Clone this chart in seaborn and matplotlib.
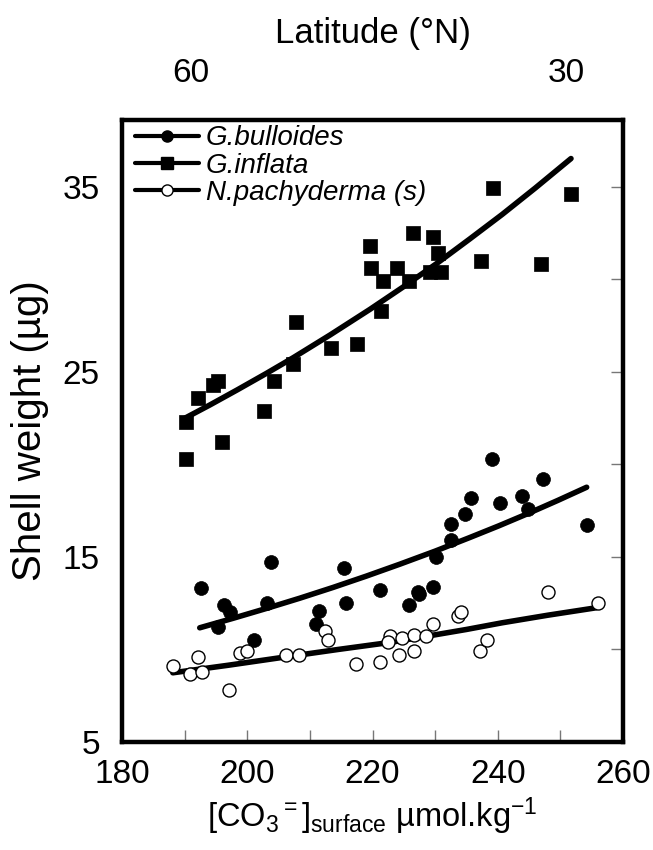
import numpy as np
import pandas as pd
import matplotlib
matplotlib.use("Agg")
import matplotlib.pyplot as plt
from matplotlib.lines import Line2D
import seaborn as sns

# ---- data ----
inflata_x = [190.2, 190.2, 192.1, 194.5, 195.3, 195.9, 202.7, 204.2, 207.3, 207.7,
             213.4, 217.5, 219.6, 219.7, 221.3, 221.7, 223.9, 225.8, 226.4, 229.6,
             230.4, 229.1, 231.0, 237.4, 239.3, 246.9, 251.7]
inflata_y = [22.3, 20.3, 23.6, 24.3, 24.5, 21.2, 22.9, 24.5, 25.4, 27.7,
             26.3, 26.5, 31.8, 30.6, 28.3, 29.9, 30.6, 29.9, 32.5, 32.3,
             31.4, 30.4, 30.4, 31.0, 34.9, 30.8, 34.6]

bulloides_x = [239.1, 247.2, 235.8, 243.8, 240.3, 234.7, 244.9, 232.5, 232.5, 254.2,
               230.1, 203.8, 215.5, 192.6, 221.2, 196.2, 203.1, 215.8, 197.3, 211.5,
               195.3, 211.0, 201.1, 227.2, 227.5, 229.6, 225.8]
bulloides_y = [20.3, 19.2, 18.2, 18.3, 17.9, 17.3, 17.6, 16.8, 15.9, 16.7,
               15.0, 14.7, 14.4, 13.3, 13.2, 12.4, 12.5, 12.5, 12.0, 12.1,
               11.2, 11.4, 10.5, 13.1, 13.0, 13.4, 12.4]

pachy_x = [188.1, 190.8, 192.7, 192.2, 197.0, 198.9, 200.0, 206.2, 208.3, 212.4,
           212.9, 217.4, 221.2, 222.8, 222.4, 224.7, 224.2, 226.6, 226.6, 228.6,
           229.6, 233.7, 234.2, 237.2, 238.3, 248.0, 256.0]
pachy_y = [9.1, 8.7, 8.8, 9.6, 7.8, 9.8, 9.9, 9.7, 9.7, 11.0,
           10.5, 9.2, 9.3, 10.7, 10.4, 10.6, 9.7, 10.8, 9.9, 10.7,
           11.4, 11.8, 12.0, 9.9, 10.5, 13.1, 12.5]

# fitted curves, points
inflata_fit_x = [189.7, 194.0, 198.4, 203.0, 207.3, 213.2, 219.6, 225.0, 230.2,
                 235.5, 240.7, 246.0, 251.7]
inflata_fit_y = [22.43, 23.20, 24.02, 24.90, 25.75, 26.98, 28.37, 29.60, 30.83,
                 32.16, 33.49, 34.92, 36.51]
bulloides_fit_x = [192.4, 197.8, 203.1, 208.4, 213.7, 219.0, 224.4, 230.0, 235.5,
                   240.2, 244.9, 249.6, 254.2]
bulloides_fit_y = [11.17, 11.69, 12.22, 12.77, 13.35, 13.96, 14.61, 15.31, 16.04,
                   16.68, 17.35, 18.05, 18.76]
pachy_fit_x = [188.1, 197.0, 206.2, 214.5, 222.8, 229.1, 235.0, 240.7, 248.0, 255.7]
pachy_fit_y = [8.74, 9.15, 9.6, 10.0, 10.38, 10.74, 11.08, 11.44, 11.85, 12.25]

series_names = ["G.bulloides", "G.inflata", "N.pachyderma (s)"]
x_ticks = [180, 200, 220, 240, 260]
y_ticks = [5, 15, 25, 35]
lat_positions = [191, 251]
lat_labels = ["60", "30"]

# ---- plotting ----
sns.set_theme(style="white")
plt.rcParams["font.family"] = ["Liberation Sans", "DejaVu Sans"]
plt.rcParams["mathtext.fontset"] = "custom"
plt.rcParams["mathtext.rm"] = "Liberation Sans"
plt.rcParams["mathtext.it"] = "Liberation Sans:italic"
plt.rcParams["text.color"] = "black"
plt.rcParams["axes.labelcolor"] = "black"

fig = plt.figure(figsize=(6.53, 8.5), dpi=100)
ax = fig.add_axes([0.187, 0.127, 0.767, 0.732])

lw_fit = 4.0
for fx, fy in [(inflata_fit_x, inflata_fit_y), (bulloides_fit_x, bulloides_fit_y),
               (pachy_fit_x, pachy_fit_y)]:
    sns.lineplot(x=fx, y=fy, ax=ax, color="black", lw=lw_fit, sort=True,
                 estimator=None, zorder=2)

sns.scatterplot(x=inflata_x, y=inflata_y, ax=ax, marker="s", s=110, color="black",
                edgecolor="black", linewidth=0.5, zorder=3)
sns.scatterplot(x=bulloides_x, y=bulloides_y, ax=ax, marker="o", s=100, color="black",
                edgecolor="black", linewidth=0.5, zorder=3)
sns.scatterplot(x=pachy_x, y=pachy_y, ax=ax, marker="o", s=88, color="white",
                edgecolor="black", linewidth=1.0, zorder=4)

ax.set_xlim(180, 260)
ax.set_ylim(5, 38.6)
ax.set_xticks(x_ticks)
ax.set_xticks(np.arange(190, 260, 20), minor=True)
ax.set_yticks(y_ticks)
ax.set_yticks(np.arange(10, 40, 10), minor=True)
ax.tick_params(axis="both", which="both", direction="in", length=9, width=1,
               color="#777777", top=True, right=True, labelsize=24,
               labelcolor="black")
ax.tick_params(axis="x", which="major", pad=12)
ax.tick_params(axis="y", which="major", pad=16)
for sp in ax.spines.values():
    sp.set_linewidth(3.2)
    sp.set_color("black")

ax.set_ylabel("Shell weight (µg)", fontsize=29, labelpad=10)
ax.set_xlabel(r"[CO$_3$$^{=}$]$_{\mathrm{surface}}$ µmol.kg$^{-1}$", fontsize=23.5,
              labelpad=4)

# top latitude axis
ax2 = ax.twiny()
ax2.set_xlim(ax.get_xlim())
ax2.set_xticks(lat_positions)
ax2.set_xticklabels(lat_labels)
ax2.tick_params(axis="x", length=0, labelsize=24, pad=22, labelcolor="black")
ax2.set_xlabel("Latitude (°N)", fontsize=25, labelpad=11)
for sp in ax2.spines.values():
    sp.set_visible(False)

# legend
handles = [
    Line2D([], [], color="black", lw=3, marker="o", markersize=8,
           markerfacecolor="black", markeredgecolor="black"),
    Line2D([], [], color="black", lw=3, marker="s", markersize=9,
           markerfacecolor="black", markeredgecolor="black"),
    Line2D([], [], color="black", lw=3, marker="o", markersize=8,
           markerfacecolor="white", markeredgecolor="black", markeredgewidth=1),
]
leg = ax.legend(handles, series_names, loc="upper left", frameon=False,
                prop={"style": "italic", "size": 20}, handlelength=2.3,
                handletextpad=0.25, labelspacing=0.05, borderaxespad=0.0,
                borderpad=0.2, bbox_to_anchor=(0.015, 1.0))

fig.savefig("out.png", dpi=100)
